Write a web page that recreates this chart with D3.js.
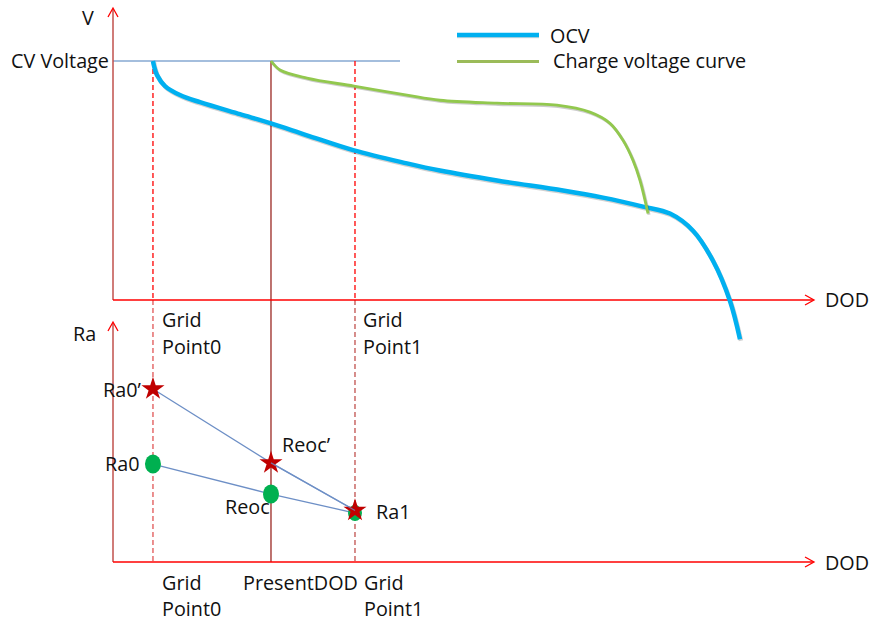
<!DOCTYPE html>
<html><head><meta charset="utf-8">
<script src="https://cdn.jsdelivr.net/npm/d3@7"></script>
<style>body{margin:0;background:#fff}svg{display:block}text{font-family:"Open Sans",sans-serif;font-size:19.8px;fill:#111}</style>
</head><body><svg id="c" width="870" height="623"></svg>
<script>
// DOD in %, voltage in V, Ra in arbitrary units
const ocvDOD   = [5.71, 5.86, 6.29, 7.43, 9.57, 12.43, 18.14, 22.57, 27.71, 34.43, 42.0, 46.71, 54.86, 64.29, 70.0, 75.71, 79.57, 82.86, 85.71, 88.14, 89.57];
const ocvV     = [4.2, 4.175, 4.129, 4.074, 4.029, 3.993, 3.933, 3.887, 3.827, 3.751, 3.686, 3.650, 3.600, 3.550, 3.514, 3.469, 3.434, 3.348, 3.197, 2.995, 2.803];
const chgDOD   = [22.57, 23.86, 27.71, 34.43, 42.0, 46.71, 54.86, 63.43, 68.14, 71.0, 72.86, 74.29, 75.29, 76.43];
const chgV     = [4.2, 4.155, 4.114, 4.074, 4.029, 4.003, 3.988, 3.978, 3.943, 3.887, 3.802, 3.701, 3.600, 3.434];
const cvVoltage = 4.2;
const gridPoints = [5.71, 34.57];
const presentDOD = 22.57;
const raPrime = [72.1, 41.3, 21.5];   // Ra0', Reoc', Ra1 (stars)
const raBase  = [40.8, 28.3, 20.4];   // Ra0, Reoc, Ra1 (dots)
const raDOD   = [5.71, 22.57, 34.57];
const legendLabels = ["OCV", "Charge voltage curve"];

const svg = d3.select("#c");
const x = d3.scaleLinear().domain([0, 100]).range([113, 813]);
const yV = d3.scaleLinear().domain([3.0, 4.2]).range([300, 61]);
const yR = d3.scaleLinear().domain([0, 100]).range([562, 322]);
const red = "#ff0000", dred = "#c0504d";

function arrowUp(xp, yTop){
  svg.append("path").attr("d", `M${xp-5},${yTop+9}L${xp},${yTop}L${xp+5},${yTop+9}`)
    .attr("fill","none").attr("stroke",red).attr("stroke-width",1.3);
}
function arrowRight(xr, yp){
  svg.append("path").attr("d", `M${xr-9},${yp-5}L${xr},${yp}L${xr-9},${yp+5}`)
    .attr("fill","none").attr("stroke",red).attr("stroke-width",1.3);
}

// CV voltage line
svg.append("line").attr("x1", x(0)).attr("x2", 400).attr("y1", yV(cvVoltage)).attr("y2", yV(cvVoltage))
  .attr("stroke","#4a7ebb").attr("stroke-width",1.2);

// Grid point dashed lines
gridPoints.forEach((g,i)=>{
  svg.append("line").attr("x1",x(g)).attr("x2",x(g)).attr("y1",yV(cvVoltage)).attr("y2",yV(3.0))
    .attr("stroke",red).attr("stroke-width",1.3).attr("stroke-dasharray","5,3");
  svg.append("line").attr("x1",x(g)).attr("x2",x(g)).attr("y1",yV(3.0)).attr("y2",yR(0))
    .attr("stroke", i===0 ? "#e05555" : dred).attr("stroke-width",1.3).attr("stroke-dasharray","5,3");
});
// Present DOD
svg.append("line").attr("x1",x(presentDOD)).attr("x2",x(presentDOD)).attr("y1",yV(cvVoltage)).attr("y2",yR(0))
  .attr("stroke","#a84440").attr("stroke-width",1.5);

// Axes top
svg.append("line").attr("x1",x(0)).attr("x2",x(0)).attr("y1",yV(3.0)).attr("y2",9).attr("stroke",dred).attr("stroke-width",1.5);
arrowUp(x(0), 8);
svg.append("line").attr("x1",x(0)).attr("x2",x(100)).attr("y1",yV(3.0)).attr("y2",yV(3.0)).attr("stroke",red).attr("stroke-width",1.5);
arrowRight(x(100)+1, yV(3.0));
// Axes bottom
svg.append("line").attr("x1",x(0)).attr("x2",x(0)).attr("y1",yR(0)).attr("y2",yR(100)+1).attr("stroke",dred).attr("stroke-width",1.5);
arrowUp(x(0), yR(100));
svg.append("line").attr("x1",x(0)).attr("x2",x(100)).attr("y1",yR(0)).attr("y2",yR(0)).attr("stroke",red).attr("stroke-width",1.5);
arrowRight(x(100)+1, yR(0));

// Curves
const line = d3.line().curve(d3.curveCatmullRom.alpha(0.5));
const ocvPts = ocvDOD.map((d,i)=>[x(d), yV(ocvV[i])]);
const chgPts = chgDOD.map((d,i)=>[x(d), yV(chgV[i])]);
svg.append("path").attr("d", line(ocvPts.map(p=>[p[0]+1,p[1]+1.5]))).attr("fill","none").attr("stroke","rgba(0,0,0,0.18)").attr("stroke-width",4.5);
svg.append("path").attr("d", line(ocvPts)).attr("fill","none").attr("stroke","#00b0f0").attr("stroke-width",4.5);
svg.append("path").attr("d", line(chgPts.map(p=>[p[0]+1,p[1]+1.2]))).attr("fill","none").attr("stroke","rgba(0,0,0,0.2)").attr("stroke-width",3);
svg.append("path").attr("d", line(chgPts)).attr("fill","none").attr("stroke","#92c84e").attr("stroke-width",2.8);

// Legend
svg.append("line").attr("x1",457).attr("x2",539).attr("y1",36).attr("y2",36).attr("stroke","rgba(0,0,0,0.15)").attr("stroke-width",4.5);
svg.append("line").attr("x1",457).attr("x2",539).attr("y1",35).attr("y2",35).attr("stroke","#00b0f0").attr("stroke-width",4.5);
svg.append("line").attr("x1",457).attr("x2",539).attr("y1",61.5).attr("y2",61.5).attr("stroke","#9bbb59").attr("stroke-width",3);
svg.append("text").attr("x",550).attr("y",43).text(legendLabels[0]);
svg.append("text").attr("x",553).attr("y",68).text(legendLabels[1]);

// Ra lines
const lineL = d3.line();
svg.append("path").attr("d", lineL(raDOD.map((d,i)=>[x(d), yR(raPrime[i])]))).attr("fill","none").attr("stroke","#6d8fc6").attr("stroke-width",1.3);
svg.append("path").attr("d", lineL(raDOD.map((d,i)=>[x(d), yR(raBase[i])]))).attr("fill","none").attr("stroke","#6d8fc6").attr("stroke-width",1.3);
// dots
svg.selectAll(".dot").data(raBase).enter().append("ellipse")
  .attr("cx",(d,i)=>x(raDOD[i])).attr("cy",d=>yR(d)).attr("rx",(d,i)=>i===2?7:8).attr("ry",(d,i)=>i===2?8:9.5).attr("fill","#00b050");
// stars
const star = d3.symbol().type(d3.symbolStar).size(165);
svg.selectAll(".star").data(raPrime).enter().append("path")
  .attr("d", star).attr("transform",(d,i)=>`translate(${x(raDOD[i])},${yR(d)})`).attr("fill","#c00000");
svg.append("path").attr("d", lineL([[x(raDOD[1]), yR(raPrime[1])],[x(raDOD[2]), yR(raPrime[2])]])).attr("fill","none").attr("stroke","#6d8fc6").attr("stroke-width",1.2).attr("opacity",0.8);

// Texts
const T = (xp,yp,s,anchor)=>svg.append("text").attr("x",xp).attr("y",yp).attr("text-anchor",anchor||"start").text(s);
T(82,25,"V");
T(11,68,"CV Voltage");
T(825,307,"DOD");
T(825,570,"DOD");
T(73,341,"Ra");
T(162,327,"Grid"); T(162,354,"Point0");
T(363,327,"Grid"); T(363,354,"Point1");
T(162,590,"Grid"); T(162,616,"Point0");
T(243,590,"PresentDOD");
T(364,590,"Grid"); T(364,616,"Point1");
T(103,397,"Ra0\u2019");
T(105,471,"Ra0");
T(282,452,"Reoc\u2019");
T(225,514,"Reoc");
T(376,519,"Ra1");
</script></body></html>
